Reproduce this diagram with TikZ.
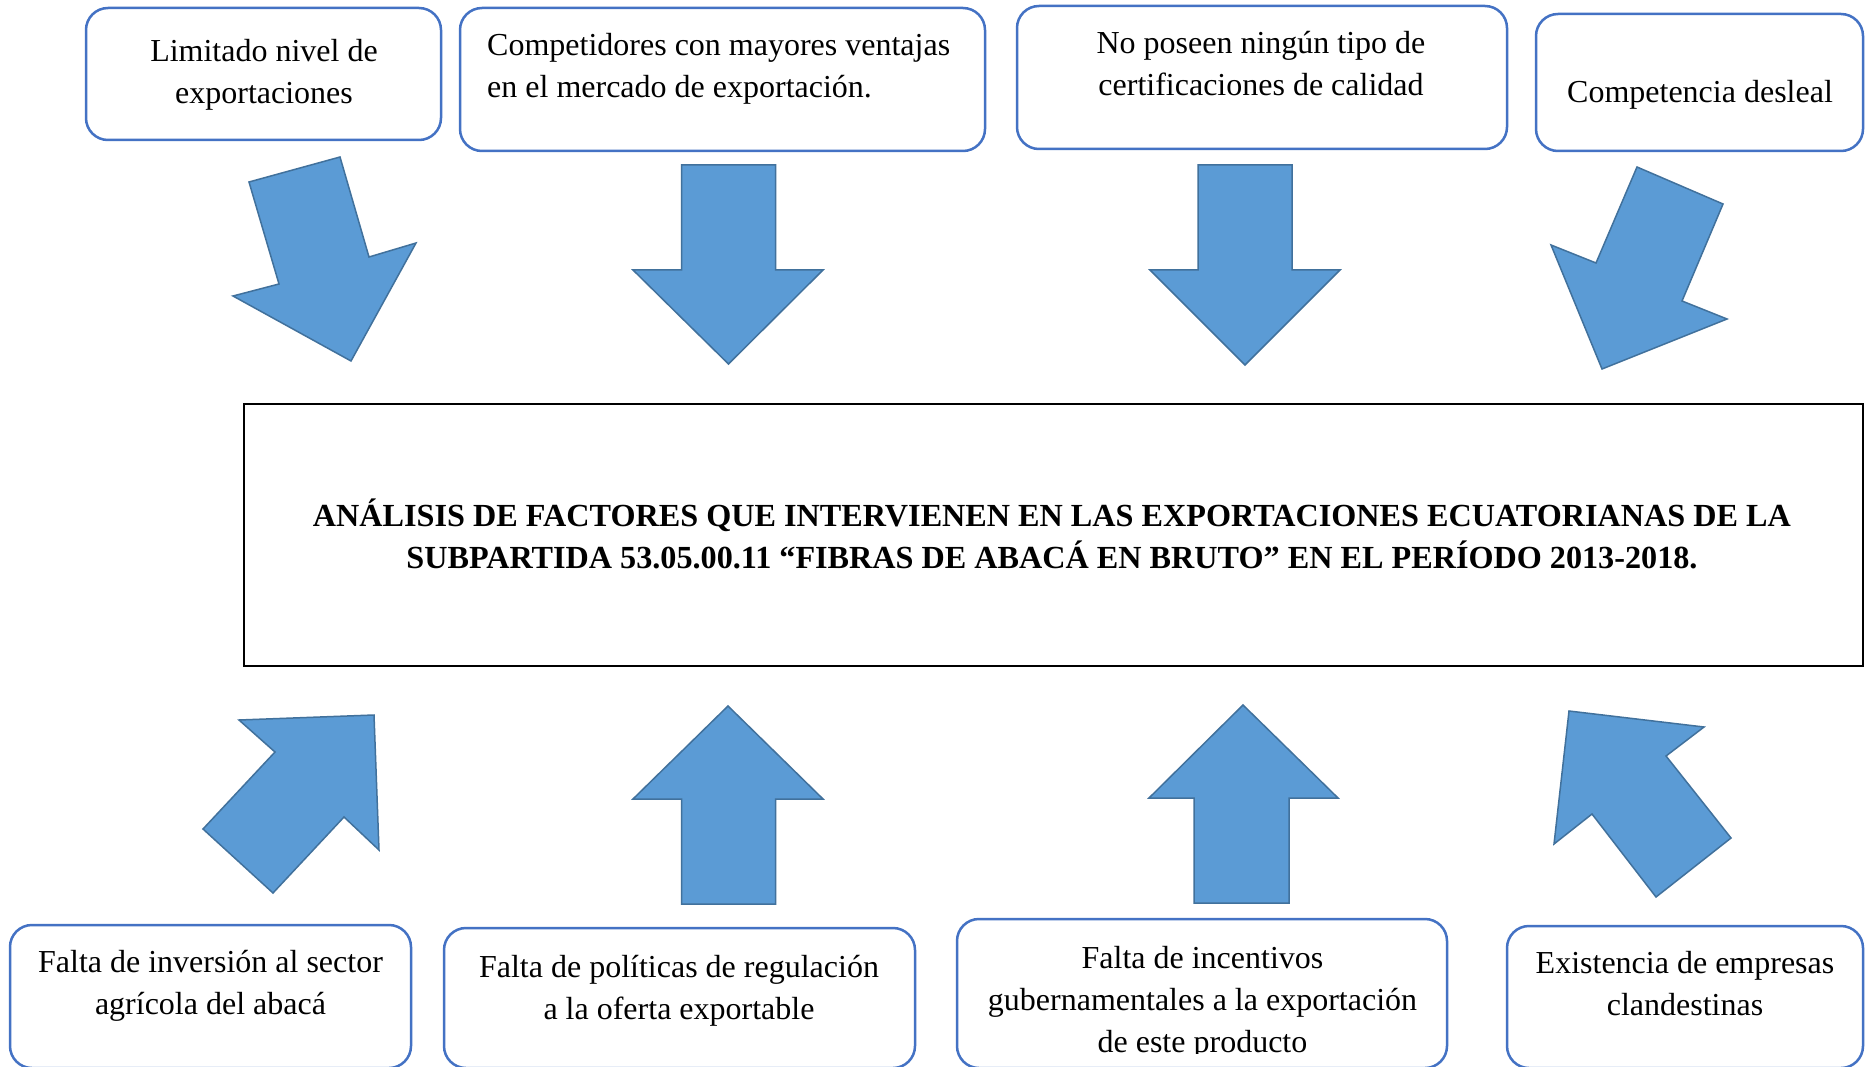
\documentclass[tikz,border=0pt]{standalone}
\usepackage{fontspec}
\setmainfont{Liberation Serif}
\definecolor{boxblue}{HTML}{4472C4}
\definecolor{arrfill}{HTML}{5B9BD5}
\definecolor{arrline}{HTML}{41719C}
\begin{document}
\begin{tikzpicture}[x=1pt,y=-1pt,
  box/.style={draw=boxblue, line width=2.5pt, rounded corners=22pt, inner sep=0pt},
  mainbox/.style={draw=black, line width=2pt, inner sep=0pt},
  txt/.style={inner sep=0pt, font=\fontsize{32}{42}\selectfont},
  ttl/.style={inner sep=0pt, font=\fontsize{32.2}{42}\selectfont\bfseries},
  bigarrow/.style={fill=arrfill, draw=arrline, line width=1.5pt, line join=miter}]
\useasboundingbox (0,0) rectangle (1865,1067);
\fill[white] (0,0) rectangle (1865,1067);

% top boxes
\node[box, minimum width=355pt, minimum height=132pt] (b1) at (263.5,74) {};
\node[box, minimum width=525pt, minimum height=143pt] (b2) at (722.5,79.5) {};
\node[box, minimum width=490pt, minimum height=143pt] (b3) at (1262,77.5) {};
\node[box, minimum width=327pt, minimum height=137pt] (b4) at (1699.5,82.5) {};

\node[txt, align=center, anchor=north] (t1) at (264,31.6) {\strut Limitado nivel de\\\strut exportaciones};
\node[txt, align=left, anchor=north west] (t2) at (487,25.6) {\strut Competidores con mayores ventajas\\\strut en el mercado de exportación.};
\node[txt, align=center, anchor=north] (t3) at (1261,23.6) {\strut No poseen ningún tipo de\\\strut certificaciones de calidad};
\node[txt, align=center, anchor=north] (t4) at (1700,72.6) {\strut Competencia desleal};

% main box
\node[mainbox, minimum width=1619pt, minimum height=262pt] (main) at (1053.5,535) {};
\node[ttl, align=center, anchor=north] (title) at (1052,496.6) {\strut ANÁLISIS DE FACTORES QUE INTERVIENEN EN LAS EXPORTACIONES ECUATORIANAS DE LA\\\strut SUBPARTIDA 53.05.00.11 “FIBRAS DE ABACÁ EN BRUTO” EN EL PERÍODO 2013-2018.};

% bottom boxes
\node[box, minimum width=401pt, minimum height=143pt] (c1) at (210.5,996.5) {};
\node[box, minimum width=471pt, minimum height=140pt] (c2) at (679.5,998) {};
\node[box, minimum width=490pt, minimum height=149pt] (c3) at (1202,993.5) {};
\node[box, minimum width=356pt, minimum height=142pt] (c4) at (1685,997) {};

\node[txt, align=center, anchor=north] (u1) at (210.5,942.6) {\strut Falta de inversión al sector\\\strut agrícola del abacá};
\node[txt, align=center, anchor=north] (u2) at (679,947.6) {\strut Falta de políticas de regulación\\\strut a la oferta exportable};
\begin{scope}
\clip (957,900) rectangle (1447,1053);
\node[txt, align=center, anchor=north] (u3) at (1202.5,938.6) {\strut Falta de incentivos\\\strut gubernamentales a la exportación\\\strut de este producto};
\end{scope}
\node[txt, align=center, anchor=north] (u4) at (1685,943.6) {\strut Existencia de empresas\\\strut clandestinas};

% top block arrows
\draw[bigarrow] (249,182) -- (340,157) -- (369,257) -- (416,243) -- (351,361) -- (233,296) -- (279,284) -- cycle;
\draw[bigarrow] (681.5,165) -- (775.5,165) -- (775.5,270) -- (823,270) -- (728.5,364) -- (633,270) -- (681.5,270) -- cycle;
\draw[bigarrow] (1198,165) -- (1292,165) -- (1292,270) -- (1340,270) -- (1245,365) -- (1150,270) -- (1198,270) -- cycle;
\draw[bigarrow] (1637,167) -- (1723,204) -- (1682,301) -- (1727,319) -- (1602,369) -- (1551,245) -- (1596,263) -- cycle;

% bottom block arrows
\draw[bigarrow] (239,720) -- (374,715) -- (379,850) -- (344,817) -- (273,893) -- (203,829) -- (275,752) -- cycle;
\draw[bigarrow] (728,706) -- (823,799) -- (775.5,799) -- (775.5,904) -- (681.5,904) -- (681.5,799) -- (633,799) -- cycle;
\draw[bigarrow] (1243,705) -- (1338,798) -- (1289,798) -- (1289,903) -- (1194,903) -- (1194,798) -- (1149,798) -- cycle;
\draw[bigarrow] (1569,711) -- (1704,727) -- (1666,756) -- (1731,838) -- (1656,897) -- (1592,814) -- (1554,844) -- cycle;
\end{tikzpicture}
\end{document}
